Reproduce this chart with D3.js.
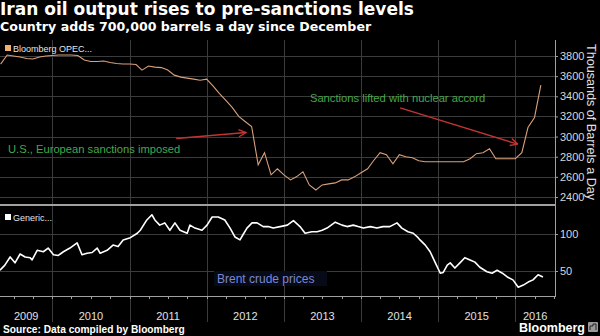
<!DOCTYPE html>
<html>
<head>
<meta charset="utf-8">
<script src="https://cdn.jsdelivr.net/npm/d3@7"></script>
<style>
  html, body { margin: 0; padding: 0; background: #000; }
  svg { display: block; }
</style>
</head>
<body>
<svg id="chart"></svg>
<script>
(function(){
    "use strict";

    // Iran crude output, thousands of barrels a day, monthly from May 2009
    var opecStart = "2009-05";
    var opecValues = [
        3720, 3810, 3800, 3790, 3775, 3770, 3790, 3800, 3805, 3810, 3810, 3810,
        3805, 3760, 3745, 3745, 3750, 3735, 3725, 3720, 3720, 3715, 3660, 3700,
        3690, 3685, 3660, 3610, 3590, 3580, 3570, 3560, 3570, 3500, 3430, 3360,
        3290, 3200, 3150, 3100, 2720, 2840, 2620, 2680, 2620, 2570, 2600, 2650,
        2520, 2470, 2520, 2530, 2540, 2570, 2570, 2600, 2640, 2680, 2760, 2840,
        2820, 2730, 2820, 2800, 2790, 2760, 2750, 2750, 2750, 2750, 2750, 2750,
        2750, 2780, 2830, 2840, 2880, 2780, 2780, 2780, 2780, 2840, 3090, 3190,
        3510
    ];

    // Brent crude, dollars a barrel
    var brentDates = [
        "2009-04-28", "2009-05-21", "2009-06-15", "2009-07-08", "2009-08-01", "2009-08-25",
        "2009-09-18", "2009-09-27", "2009-10-21", "2009-11-19", "2009-12-12", "2010-01-06",
        "2010-01-29", "2010-02-22", "2010-03-25", "2010-04-28", "2010-05-21", "2010-06-14",
        "2010-07-08", "2010-08-01", "2010-08-15", "2010-09-17", "2010-10-15", "2010-11-08",
        "2010-12-02", "2011-01-05", "2011-02-07", "2011-02-21", "2011-03-24", "2011-04-17",
        "2011-05-01", "2011-05-24", "2011-06-17", "2011-07-11", "2011-08-04", "2011-08-28",
        "2011-10-01", "2011-10-14", "2011-11-07", "2011-12-10", "2012-01-03", "2012-01-27",
        "2012-02-25", "2012-03-27", "2012-04-21", "2012-05-14", "2012-06-07", "2012-06-21",
        "2012-07-10", "2012-08-03", "2012-08-27", "2012-09-25", "2012-10-18", "2012-11-11",
        "2012-12-14", "2013-01-17", "2013-02-15", "2013-03-18", "2013-04-11", "2013-05-13",
        "2013-06-07", "2013-07-01", "2013-07-24", "2013-09-01", "2013-10-03", "2013-10-27",
        "2013-11-25", "2013-12-18", "2014-01-12", "2014-02-14", "2014-03-17", "2014-04-15",
        "2014-05-17", "2014-06-20", "2014-07-13", "2014-08-11", "2014-09-05", "2014-09-28",
        "2014-10-07", "2014-11-01", "2014-11-24", "2014-12-17", "2015-01-11", "2015-01-25",
        "2015-02-13", "2015-02-27", "2015-03-21", "2015-04-14", "2015-05-07", "2015-06-01",
        "2015-06-24", "2015-07-17", "2015-08-20", "2015-09-13", "2015-10-07", "2015-11-01",
        "2015-11-24", "2015-12-21", "2016-01-15", "2016-02-08", "2016-03-02", "2016-03-25",
        "2016-04-18", "2016-05-11"
    ];
    var brentValues = [
        51, 58, 69, 61, 73, 69,
        68, 65, 78, 76, 81, 72,
        71, 76, 81, 88, 72, 74,
        75, 81, 74, 78, 85, 83,
        92, 95, 101, 105, 119, 126,
        119, 112, 115, 105, 115, 105,
        101, 112, 108, 105, 112, 123,
        123, 119, 108, 96, 92, 99,
        108, 115, 115, 110, 110, 108,
        110, 112, 118, 110, 101, 103,
        103, 105, 108, 116, 112, 110,
        112, 110, 108, 110, 108, 110,
        110, 115, 108, 103, 101, 95,
        92, 85, 76, 62, 47, 48,
        58, 61, 54, 61, 68, 65,
        62, 55, 49, 47, 51, 47,
        42, 38, 28, 31, 35, 38,
        45, 42
    ];

    var opecTicks = [2400, 2600, 2800, 3000, 3200, 3400, 3600, 3800];
    var brentTicks = [50, 100];
    var years = [2009, 2010, 2011, 2012, 2013, 2014, 2015, 2016];

    var annotations = [
        {text: "U.S., European sanctions imposed", tx: "2009-03-25", ty: 2835,
         from: ["2011-08-10", 2980], to: ["2012-07-05", 3040]},
        {text: "Sanctions lifted with nuclear accord", tx: "2013-05-04", ty: 3345,
         from: ["2014-07-05", 3285], to: ["2016-01-12", 2925]}
    ];

    var width = 600,
        height = 336,
        plotRight = 555,
        topPanel = [40, 204],
        bottomPanel = [206, 296];

    var parseDay = d3.timeParse("%Y-%m-%d"),
        parseMonth = d3.timeParse("%Y-%m");

    var svg = d3.select("svg#chart")
        .attr("width", width)
        .attr("height", height)
        .style("font-family", "'Liberation Sans', Arial, sans-serif");

    svg.append("rect").attr("width", width).attr("height", height).attr("fill", "#000");

    var x = d3.scaleTime()
        .domain([new Date(2009, 3, 28), new Date(2016, 6, 7)])
        .range([0, plotRight]);

    var yOpec = d3.scaleLinear().domain([2400, 3800]).range([197, 56]);
    var yBrent = d3.scaleLinear().domain([50, 100]).range([271, 234]);

    var opecData = opecValues.map(function(v, i) {
        return {date: d3.timeMonth.offset(parseMonth(opecStart), i), value: v};
    });
    var brentData = brentDates.map(function(d, i) {
        return {date: parseDay(d), value: brentValues[i]};
    });

    // grid
    var grid = svg.append("g").attr("stroke", "#3b3b3b").attr("stroke-width", 1);

    grid.selectAll("line.h1")
        .data(opecTicks)
        .enter().append("line")
        .attr("x1", 0).attr("x2", plotRight)
        .attr("y1", function(d) { return Math.round(yOpec(d)) + 0.5; })
        .attr("y2", function(d) { return Math.round(yOpec(d)) + 0.5; });

    grid.selectAll("line.h2")
        .data(brentTicks)
        .enter().append("line")
        .attr("x1", 0).attr("x2", plotRight)
        .attr("y1", function(d) { return Math.round(yBrent(d)) + 0.5; })
        .attr("y2", function(d) { return Math.round(yBrent(d)) + 0.5; });

    var yearStarts = years.slice(1).map(function(y) { return new Date(y, 0, 1); });

    grid.selectAll("line.v")
        .data(yearStarts)
        .enter().append("line")
        .attr("x1", function(d) { return Math.round(x(d)) + 0.5; })
        .attr("x2", function(d) { return Math.round(x(d)) + 0.5; })
        .attr("y1", topPanel[0])
        .attr("y2", 322);

    // panel frame
    var frame = svg.append("g").attr("stroke", "#a0a0a0");
    frame.append("line").attr("x1", 0).attr("x2", plotRight + 1)
        .attr("y1", 205).attr("y2", 205).attr("stroke-width", 2);
    frame.append("line").attr("x1", 0).attr("x2", plotRight + 1)
        .attr("y1", bottomPanel[1] + 0.5).attr("y2", bottomPanel[1] + 0.5);
    frame.append("line").attr("x1", plotRight + 0.5).attr("x2", plotRight + 0.5)
        .attr("y1", topPanel[0]).attr("y2", bottomPanel[1] + 1);

    // quarterly ticks under the time axis
    var quarters = d3.timeMonth.every(3).range(x.domain()[0], x.domain()[1]);
    frame.selectAll("line.q")
        .data(quarters)
        .enter().append("line")
        .attr("x1", function(d) { return Math.round(x(d)) + 0.5; })
        .attr("x2", function(d) { return Math.round(x(d)) + 0.5; })
        .attr("y1", bottomPanel[1]).attr("y2", bottomPanel[1] + 3);

    // right axes
    var axisOpec = svg.append("g")
        .attr("transform", "translate(" + plotRight + ",0)")
        .call(d3.axisRight(yOpec).tickValues(opecTicks).tickFormat(d3.format("d"))
            .tickSize(3).tickPadding(2));
    var axisBrent = svg.append("g")
        .attr("transform", "translate(" + plotRight + ",0)")
        .call(d3.axisRight(yBrent).tickValues(brentTicks).tickFormat(d3.format("d"))
            .tickSize(3).tickPadding(2));

    [axisOpec, axisBrent].forEach(function(a) {
        a.select(".domain").remove();
        a.selectAll("line").attr("stroke", "#a0a0a0");
        a.selectAll("text")
            .attr("fill", "#d8d8d8")
            .style("font-size", "11px")
            .style("font-family", "'Liberation Sans', Arial, sans-serif");
    });

    svg.append("text")
        .attr("transform", "translate(587,122) rotate(90)")
        .attr("text-anchor", "middle")
        .attr("fill", "#e0e0e0")
        .style("font-size", "12.6px")
        .text("Thousands of Barrels a Day");

    // year labels, centred on the visible part of each year
    svg.selectAll("text.year")
        .data(years)
        .enter().append("text")
        .attr("class", "year")
        .attr("x", function(y) {
            var a = Math.max(x(new Date(y, 0, 1)), 0),
                b = Math.min(x(new Date(y + 1, 0, 1)), plotRight);
            return (a + b) / 2;
        })
        .attr("y", 320)
        .attr("text-anchor", "middle")
        .attr("fill", "#e0e0e0")
        .style("font-size", "11px")
        .text(function(y) { return y; });

    // series
    var lineOpec = d3.line()
        .x(function(d) { return x(d.date); })
        .y(function(d) { return yOpec(d.value); });
    var lineBrent = d3.line()
        .x(function(d) { return x(d.date); })
        .y(function(d) { return yBrent(d.value); });

    svg.append("path")
        .datum(opecData)
        .attr("fill", "none")
        .attr("stroke", "#d9a07a")
        .attr("stroke-width", 1.1)
        .attr("d", lineOpec);

    svg.append("path")
        .datum(brentData)
        .attr("fill", "none")
        .attr("stroke", "#ffffff")
        .attr("stroke-width", 1.6)
        .attr("stroke-linejoin", "round")
        .attr("d", lineBrent);

    // legends
    svg.append("rect").attr("x", 5).attr("y", 45).attr("width", 6).attr("height", 6)
        .attr("fill", "#f0b070");
    svg.append("text").attr("x", 13).attr("y", 52)
        .attr("fill", "#e6e6e6").style("font-size", "9px")
        .text("Bloomberg OPEC...");
    svg.append("rect").attr("x", 5).attr("y", 214).attr("width", 6).attr("height", 6)
        .attr("fill", "#ffffff");
    svg.append("text").attr("x", 13).attr("y", 221)
        .attr("fill", "#e6e6e6").style("font-size", "9px")
        .text("Generic...");

    // annotations
    var defs = svg.append("defs");
    defs.append("marker")
        .attr("id", "head")
        .attr("viewBox", "0 0 10 10")
        .attr("refX", 9).attr("refY", 5)
        .attr("markerWidth", 6).attr("markerHeight", 6)
        .attr("orient", "auto")
        .append("path")
        .attr("d", "M1,1 L9,5 L1,9")
        .attr("fill", "none")
        .attr("stroke", "#c23434")
        .attr("stroke-width", 1.6);

    annotations.forEach(function(a) {
        svg.append("line")
            .attr("x1", x(parseDay(a.from[0])))
            .attr("y1", yOpec(a.from[1]))
            .attr("x2", x(parseDay(a.to[0])))
            .attr("y2", yOpec(a.to[1]))
            .attr("stroke", "#c23434")
            .attr("stroke-width", 1.5)
            .attr("marker-end", "url(#head)");
        svg.append("text")
            .attr("x", Math.max(x(parseDay(a.tx)), 8))
            .attr("y", yOpec(a.ty))
            .attr("fill", "#45a84c")
            .style("font-size", "11.2px")
            .text(a.text);
    });

    var brentLabel = svg.append("g");
    brentLabel.append("rect")
        .attr("x", 214).attr("y", 271).attr("width", 113).attr("height", 15)
        .attr("fill", "#070b18");
    brentLabel.append("text")
        .attr("x", 217).attr("y", 282.5)
        .attr("fill", "#7c87d2")
        .style("font-size", "12px")
        .text("Brent crude prices");

    // titles
    svg.append("text").attr("x", 0).attr("y", 15)
        .attr("fill", "#ffffff")
        .style("font-family", "'DejaVu Sans', sans-serif")
        .style("font-weight", "bold")
        .style("font-size", "17px")
        .text("Iran oil output rises to pre-sanctions levels");
    svg.append("text").attr("x", 0).attr("y", 31)
        .attr("fill", "#ffffff")
        .style("font-family", "'DejaVu Sans', sans-serif")
        .style("font-weight", "bold")
        .style("font-size", "12.6px")
        .text("Country adds 700,000 barrels a day since December");

    svg.append("text").attr("x", 3).attr("y", 333)
        .attr("fill", "#ffffff")
        .style("font-weight", "bold")
        .style("font-size", "10.2px")
        .text("Source: Data compiled by Bloomberg");

    svg.append("text").attr("x", 585).attr("y", 332)
        .attr("text-anchor", "end")
        .attr("fill", "#ffffff")
        .style("font-weight", "bold")
        .style("font-size", "12.5px")
        .text("Bloomberg");
    svg.append("rect").attr("x", 588).attr("y", 322).attr("width", 10).attr("height", 10)
        .attr("rx", 1).attr("fill", "#9a9a9a");
    svg.append("path").attr("d", "M590,330 L590,326 L593,326 L593,324 L596,324 L596,330")
        .attr("fill", "none").attr("stroke", "#222").attr("stroke-width", 1);
})();
</script>
</body>
</html>
